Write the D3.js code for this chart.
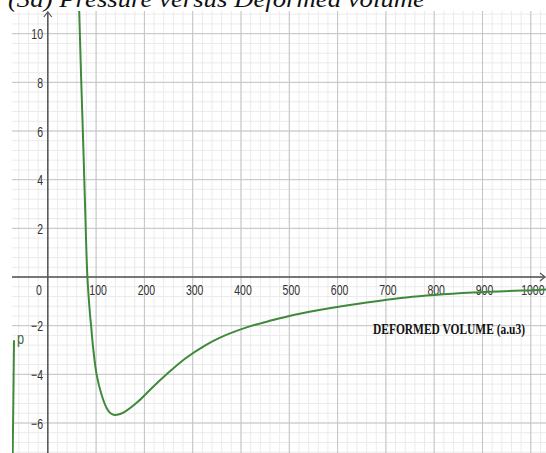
<!DOCTYPE html>
<html>
<head>
<meta charset="utf-8">
<script src="https://cdn.jsdelivr.net/npm/d3@7"></script>
<style>
  body { margin: 0; background: #fff; }
  svg { display: block; }
</style>
</head>
<body>
<div id="chart"></div>
<script>
// curve: deformed volume (a.u3) vs pressure
var volume = [64, 65, 69, 73.5, 77.5, 82, 87.5, 89.5, 94, 101, 111.5, 122, 130, 138, 148, 160, 187, 215, 246, 284, 326, 360, 418, 466, 500, 556, 625, 742, 880, 1018, 1040];
var pressure = [11.6, 10.95, 8.2, 5.4, 2.7, 0, -1.56, -1.97, -2.93, -4.0, -4.85, -5.39, -5.6, -5.67, -5.64, -5.53, -5.12, -4.57, -4.0, -3.36, -2.81, -2.46, -2.03, -1.77, -1.6, -1.38, -1.15, -0.84, -0.64, -0.53, -0.51];

// short branch on the far left
var volumeLeft = [-70, -71.3, -72.7];
var pressureLeft = [-2.6, -5.0, -7.3];

var xTicks = [100, 200, 300, 400, 500, 600, 700, 800, 900, 1000];
var yTicks = [10, 8, 6, 4, 2, -2, -4, -6];

var title = '(3a) Pressure versus Deformed volume';
var xTitle = 'DEFORMED VOLUME (a.u3)';
var curveLabel = 'p';

var width = 546, height = 453;
var plot = { left: 12, top: 11, right: 546, bottom: 453 };

var x = d3.scaleLinear().domain([0, 1000]).range([47.8, 530.8]);
var y = d3.scaleLinear().domain([0, -6]).range([277, 423]);

var svg = d3.select('#chart').append('svg')
  .attr('width', width)
  .attr('height', height);

svg.append('defs').append('clipPath').attr('id', 'plotclip')
  .append('rect')
  .attr('x', plot.left).attr('y', plot.top)
  .attr('width', plot.right - plot.left).attr('height', plot.bottom - plot.top);

var grid = svg.append('g').attr('clip-path', 'url(#plotclip)');

// minor grid
grid.selectAll('.vminor').data(d3.range(-80, 1041, 20)).enter().append('line')
  .attr('x1', function (d) { return x(d); }).attr('x2', function (d) { return x(d); })
  .attr('y1', plot.top).attr('y2', plot.bottom)
  .style('stroke', '#ebebeb').style('stroke-width', 1);
grid.selectAll('.hminor').data(d3.range(-19, 29).map(function (i) { return i * 0.4; })).enter().append('line')
  .attr('y1', function (d) { return y(d); }).attr('y2', function (d) { return y(d); })
  .attr('x1', plot.left).attr('x2', plot.right)
  .style('stroke', '#ebebeb').style('stroke-width', 1);

// major grid
grid.selectAll('.vmajor').data(d3.range(-100, 1101, 100)).enter().append('line')
  .attr('x1', function (d) { return x(d); }).attr('x2', function (d) { return x(d); })
  .attr('y1', plot.top).attr('y2', plot.bottom)
  .style('stroke', '#c4c4c4').style('stroke-width', 1);
grid.selectAll('.hmajor').data(d3.range(-8, 13, 2)).enter().append('line')
  .attr('y1', function (d) { return y(d); }).attr('y2', function (d) { return y(d); })
  .attr('x1', plot.left).attr('x2', plot.right)
  .style('stroke', '#c4c4c4').style('stroke-width', 1);

// axes
var axisColor = '#555';
svg.append('line')
  .attr('x1', plot.left).attr('x2', 545).attr('y1', y(0)).attr('y2', y(0))
  .style('stroke', axisColor).style('stroke-width', 1.5);
svg.append('line')
  .attr('x1', x(0)).attr('x2', x(0)).attr('y1', 12).attr('y2', plot.bottom)
  .style('stroke', axisColor).style('stroke-width', 1.5);
// arrow heads
svg.append('path')
  .attr('d', 'M' + (x(0) - 4) + ',17 L' + x(0) + ',12 L' + (x(0) + 4) + ',17')
  .style('fill', 'none').style('stroke', axisColor).style('stroke-width', 1.2);
svg.append('path')
  .attr('d', 'M540,' + (y(0) - 4) + ' L545,' + y(0) + ' L540,' + (y(0) + 4))
  .style('fill', 'none').style('stroke', axisColor).style('stroke-width', 1.2);

// tick labels (squeezed like the source)
var labelFont = '"Liberation Sans", Arial, sans-serif';
var xl = svg.append('g');
xl.selectAll('g').data(xTicks).enter().append('g')
  .attr('transform', function (d) { return 'translate(' + (x(d) + 2) + ',295) scale(0.7,1)'; })
  .append('text')
  .attr('text-anchor', 'middle')
  .style('font-family', labelFont).style('font-size', '15px').style('fill', '#333')
  .text(function (d) { return d; });
svg.append('g').attr('transform', 'translate(39,295) scale(0.7,1)')
  .append('text').attr('text-anchor', 'middle')
  .style('font-family', labelFont).style('font-size', '15px').style('fill', '#333')
  .text('0');

var yl = svg.append('g');
yl.selectAll('g').data(yTicks).enter().append('g')
  .attr('transform', function (d) { return 'translate(43,' + (y(d) + 5.5) + ') scale(0.7,1)'; })
  .append('text')
  .attr('text-anchor', 'end')
  .style('font-family', labelFont).style('font-size', '15px').style('fill', '#333')
  .text(function (d) { return d < 0 ? '\u2212' + (-d) : d; });

// curves
var line = d3.line()
  .x(function (d) { return x(d[0]); })
  .y(function (d) { return y(d[1]); })
  .curve(d3.curveCatmullRom);

var curves = svg.append('g').attr('clip-path', 'url(#plotclip)');
curves.append('path')
  .datum(d3.zip(volume, pressure))
  .attr('d', line)
  .style('fill', 'none').style('stroke', '#3f8a3a').style('stroke-width', 2);
curves.append('path')
  .datum(d3.zip(volumeLeft, pressureLeft))
  .attr('d', line)
  .style('fill', 'none').style('stroke', '#3f8a3a').style('stroke-width', 2);

// curve label
svg.append('g').attr('transform', 'translate(17,' + (y(-2.7) + 1) + ') scale(0.75,1)')
  .append('text')
  .style('font-family', labelFont).style('font-size', '17px').style('fill', '#3d6a3a')
  .text(curveLabel);

// axis title
svg.append('text')
  .attr('x', 373).attr('y', 334)
  .attr('textLength', 152).attr('lengthAdjust', 'spacingAndGlyphs')
  .style('font-family', '"Liberation Serif", "Times New Roman", serif')
  .style('font-weight', 'bold').style('font-size', '15px').style('fill', '#111')
  .text(xTitle);

// chart title, cut off at the top
svg.append('text')
  .attr('x', 8).attr('y', 7)
  .attr('textLength', 417).attr('lengthAdjust', 'spacingAndGlyphs')
  .style('font-family', '"Liberation Serif", "Times New Roman", serif')
  .style('font-style', 'italic').style('font-size', '24px').style('fill', '#111')
  .text(title);
</script>
</body>
</html>
